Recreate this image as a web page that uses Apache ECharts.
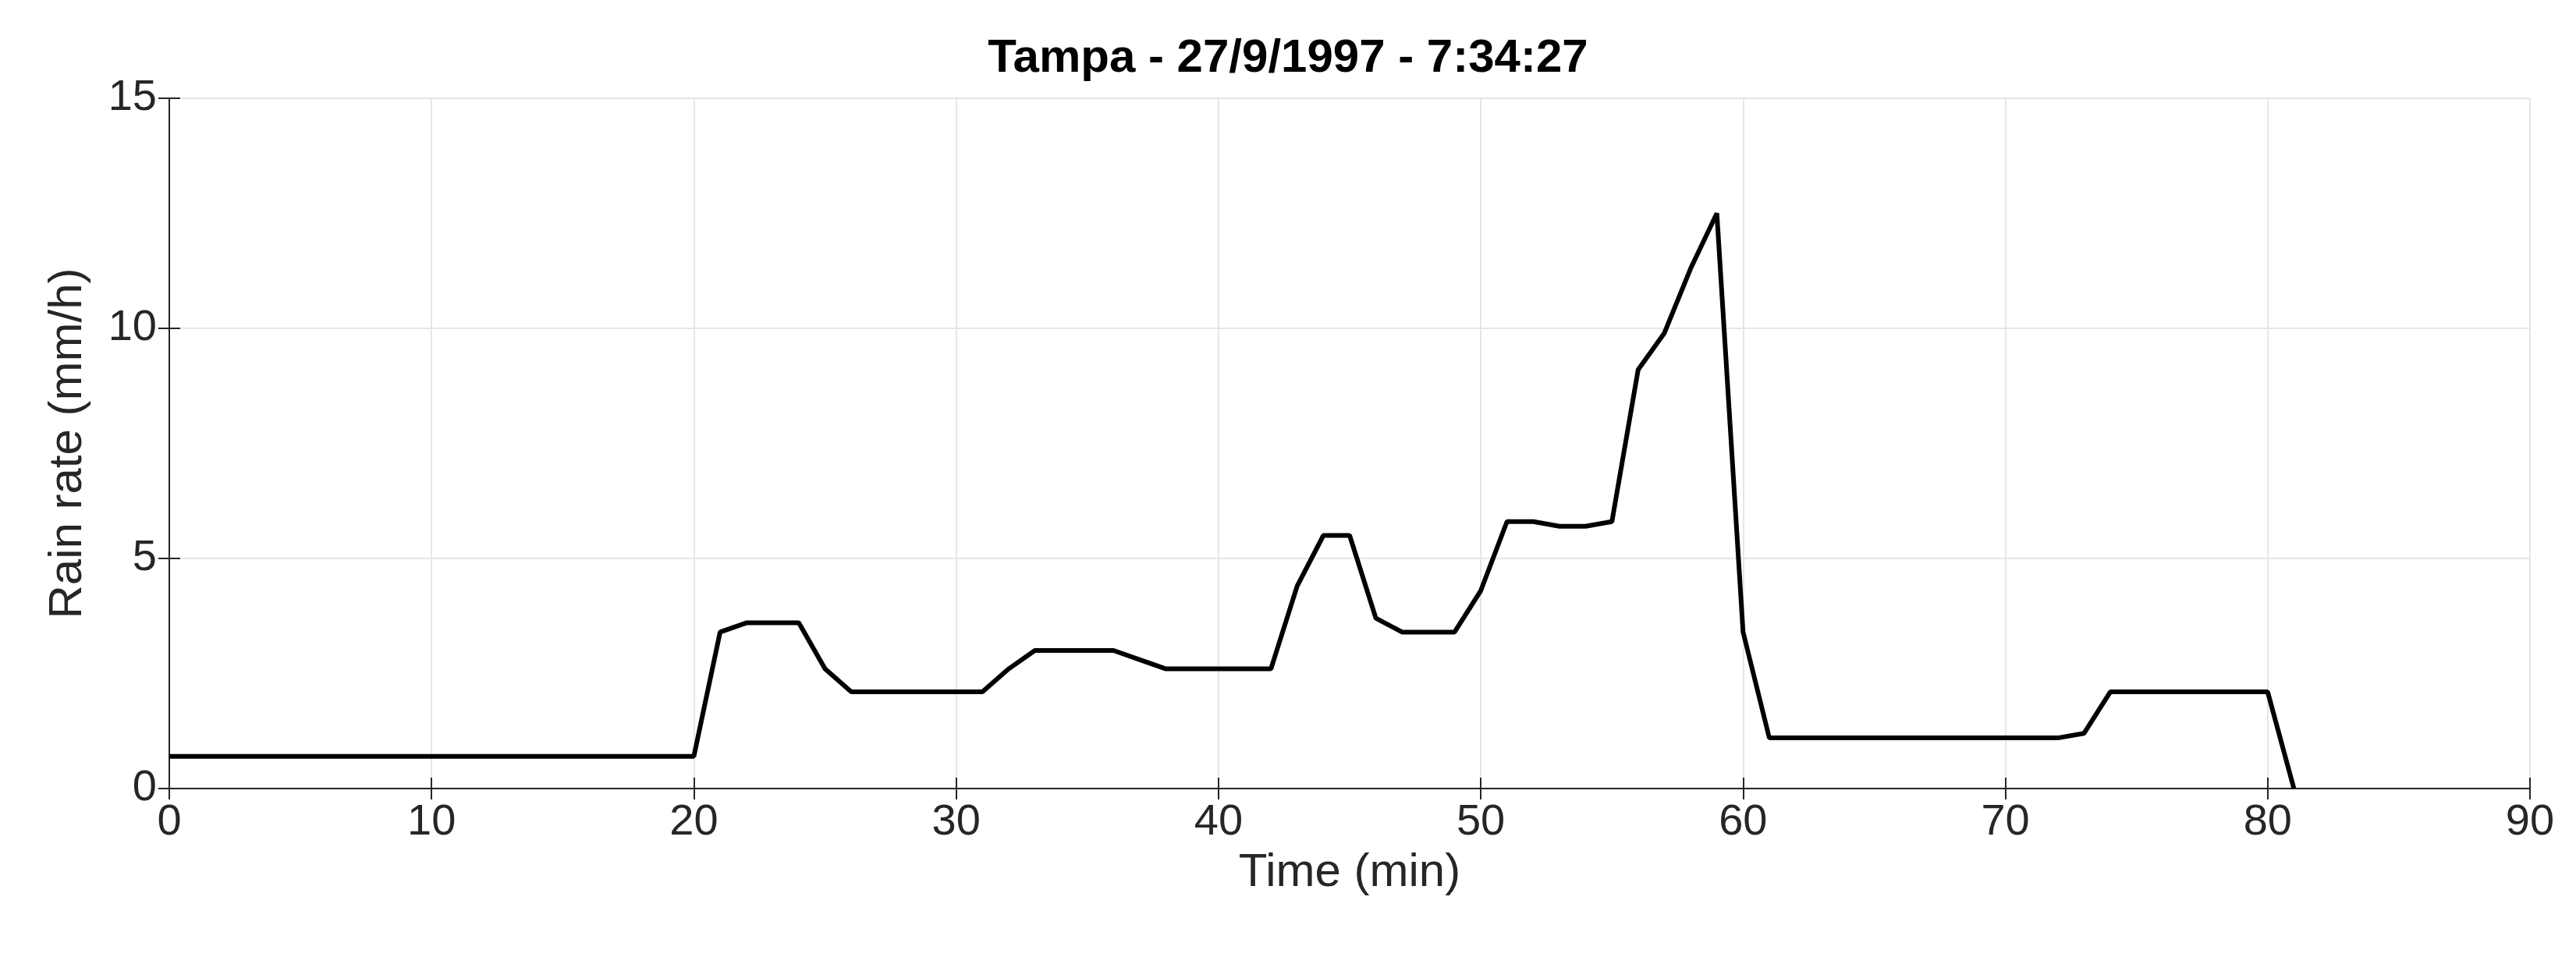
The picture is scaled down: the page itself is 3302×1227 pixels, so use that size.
<!DOCTYPE html>
<html><head><meta charset="utf-8">
<script src="https://cdn.jsdelivr.net/npm/echarts@6/dist/echarts.min.js"></script>
<style>html,body{margin:0;padding:0;background:#fff}#c{width:3302px;height:1227px}</style>
</head><body><div id="c"></div>
<script>
const times = [0,1,2,3,4,5,6,7,8,9,10,11,12,13,14,15,16,17,18,19,20,21,22,23,24,25,26,27,28,29,30,31,32,33,34,35,36,37,38,39,40,41,42,43,44,45,46,47,48,49,50,51,52,53,54,55,56,57,58,59,60,61,62,63,64,65,66,67,68,69,70,71,72,73,74,75,76,77,78,79,80,81];
const rain = [0.7,0.7,0.7,0.7,0.7,0.7,0.7,0.7,0.7,0.7,0.7,0.7,0.7,0.7,0.7,0.7,0.7,0.7,0.7,0.7,0.7,3.4,3.6,3.6,3.6,2.6,2.1,2.1,2.1,2.1,2.1,2.1,2.6,3.0,3.0,3.0,3.0,2.8,2.6,2.6,2.6,2.6,2.6,4.4,5.5,5.5,3.7,3.4,3.4,3.4,4.3,5.8,5.8,5.7,5.7,5.8,9.1,9.9,11.3,12.5,3.4,1.1,1.1,1.1,1.1,1.1,1.1,1.1,1.1,1.1,1.1,1.1,1.1,1.2,2.1,2.1,2.1,2.1,2.1,2.1,2.1,0];
const title = 'Tampa - 27/9/1997 - 7:34:27';
const xName = 'Time (min)', yName = 'Rain rate (mm/h)';
const F = 'Liberation Sans, Arial, Helvetica, sans-serif';
const c = echarts.init(document.getElementById('c'));
const ax = (min,max,iv,name,gap,pos)=>({type:'value',min,max,interval:iv,name,nameLocation:'middle',nameGap:gap,position:pos,
  nameTextStyle:{fontFamily:F,fontSize:60,color:'#262626'},
  axisLine:{show:true,lineStyle:{color:'#262626',width:2}},
  axisTick:{show:true,inside:true,length:14,lineStyle:{color:'#262626',width:2}},
  axisLabel:{show:!!name,fontFamily:F,fontSize:56,color:'#262626',margin:16},
  splitLine:{show:!!name,lineStyle:{color:'#e6e6e6',width:2}}});
c.setOption({
  animation:false,
  title:{text:title,left:'center',top:40,textStyle:{fontFamily:F,fontSize:60,fontWeight:'bold',color:'#000'}},
  grid:{left:217,right:59,top:126,bottom:216},
  xAxis:[ax(0,90,10,xName,78,'bottom'),ax(0,90,10,'',0,'top')],
  yAxis:[ax(0,15,5,yName,100,'left'),ax(0,15,5,'',0,'right')],
  series:[{type:'line',data:times.map((t,i)=>[t,rain[i]]),showSymbol:false,
    lineStyle:{color:'#000',width:6},itemStyle:{color:'#000'}}]
});
</script></body></html>
